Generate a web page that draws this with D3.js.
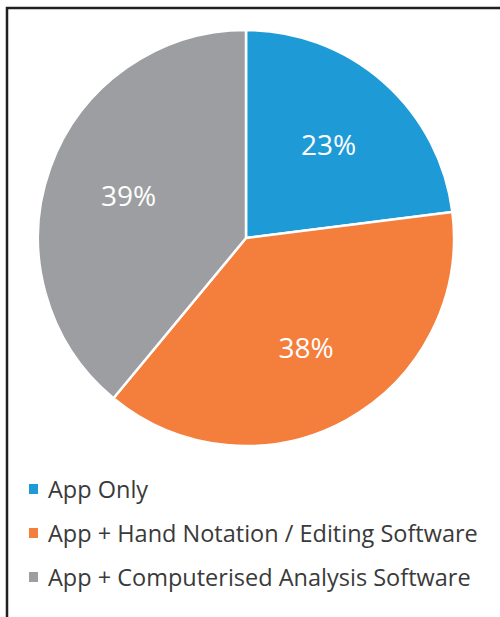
<!DOCTYPE html>
<html>
<head>
<meta charset="utf-8">
<script src="https://cdn.jsdelivr.net/npm/d3@7"></script>
<style>
  body { margin: 0; background: #fff; }
</style>
</head>
<body>
<svg id="pie" width="500" height="617"></svg>
<script>
var categories = ["App Only", "App + Hand Notation / Editing Software", "App + Computerised Analysis Software"];
var shares = [23, 38, 39];
var colours = ["#1e9bd7", "#f47e3c", "#9c9ea1"];

var svg = d3.select("#pie");

// frame lines (top and left only, as in the source)
svg.append("path")
    .attr("d", "M7,617V8H500")
    .attr("fill", "none")
    .attr("stroke", "#231f20")
    .attr("stroke-width", 2.5);

var cx = 246, cy = 238, radius = 208;
var g = svg.append("g").attr("transform", "translate(" + cx + "," + cy + ")");

var z = d3.scaleOrdinal().domain(categories).range(colours);

var pie = d3.pie()
    .sort(null)
    .value(function(d, i) { return shares[i]; });

var arc = d3.arc().innerRadius(0).outerRadius(radius);
var labelArc = d3.arc().innerRadius(radius * 0.6).outerRadius(radius * 0.6);

var arcs = pie(categories);

g.selectAll("path.slice")
    .data(arcs)
    .enter().append("path")
    .attr("class", "slice")
    .attr("d", arc)
    .attr("fill", function(d) { return z(d.data); })
    .attr("stroke", "#fff")
    .attr("stroke-width", 2.5)
    .attr("stroke-linejoin", "round");

g.selectAll("text.pct")
    .data(arcs)
    .enter().append("text")
    .attr("class", "pct")
    .attr("transform", function(d) { return "translate(" + labelArc.centroid(d) + ")"; })
    .attr("text-anchor", "middle")
    .attr("dy", "0.38em")
    .attr("fill", "#fff")
    .attr("font-family", "Open Sans, sans-serif")
    .attr("font-size", 28)
    .text(function(d, i) { return shares[i] + "%"; });

var legend = svg.append("g")
    .attr("font-family", "Open Sans, sans-serif")
    .attr("font-size", 23.5)
    .selectAll("g")
    .data(categories)
    .enter().append("g")
    .attr("transform", function(d, i) { return "translate(29," + (498 + i * 44) + ")"; });

legend.append("rect")
    .attr("x", 0)
    .attr("y", -14)
    .attr("width", 9)
    .attr("height", 10)
    .attr("fill", z);

legend.append("text")
    .attr("x", 19)
    .attr("y", 0)
    .attr("fill", "#3a3a3a")
    .text(function(d) { return d; });
</script>
</body>
</html>
